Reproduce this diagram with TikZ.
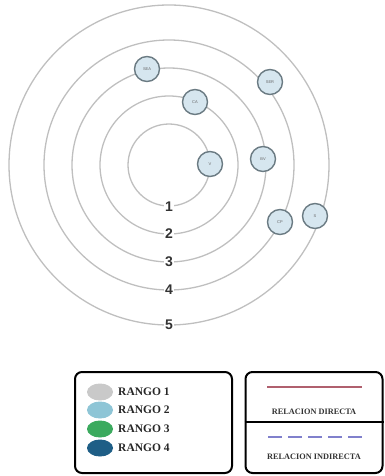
\documentclass[tikz,border=0pt]{standalone}
\usepackage{fontspec}
\usetikzlibrary{shapes.geometric}
\setmainfont{Liberation Serif}
\setsansfont{Liberation Sans}
\definecolor{actfill}{HTML}{D6E6EF}
\definecolor{actdraw}{HTML}{6B7B83}
\definecolor{rg1}{HTML}{C9C9C9}
\definecolor{rg2}{HTML}{8EC5D6}
\definecolor{rg3}{HTML}{3BAA5E}
\definecolor{rg4}{HTML}{1E5E86}
\definecolor{reldir}{HTML}{B0606E}
\definecolor{relind}{HTML}{8080CC}
\begin{document}
\begin{tikzpicture}[x=1pt,y=-1pt,
  ring/.style={draw=black!25,line width=1.3pt},
  ringlabel/.style={fill=white,inner sep=1pt,font=\sffamily\bfseries\fontsize{14}{14}\selectfont,text=black!80},
  actor/.style={circle,draw=actdraw,line width=1.4pt,fill=actfill,minimum size=25pt,inner sep=0pt,font=\sffamily\fontsize{4}{4}\selectfont,text=black!60},
  legbox/.style={draw=black,line width=2pt,rounded corners=7pt},
  legdot/.style={ellipse,minimum width=26pt,minimum height=17pt,inner sep=0pt},
  legtext/.style={anchor=west,font=\bfseries\fontsize{11.5}{11.5}\selectfont,text=black!85,inner sep=0pt},
  reltext/.style={font=\bfseries\fontsize{8.3}{8.3}\selectfont,text=black!80,inner sep=0pt}
]
\useasboundingbox (0,0) rectangle (384,476);
\coordinate (c) at (169,165);
\foreach \r in {41,69,97,125,160} \draw[ring] (c) circle (\r);
\node[ringlabel] (l1) at (169,207) {1};
\node[ringlabel] (l2) at (169,234) {2};
\node[ringlabel] (l3) at (169,262) {3};
\node[ringlabel] (l4) at (169,290) {4};
\node[ringlabel] (l5) at (169,325) {5};
\node[actor] (sea) at (147,69) {SEA};
\node[actor] (ser) at (270,82) {SER};
\node[actor] (ca) at (195,102) {CA};
\node[actor] (v) at (210,164) {V};
\node[actor] (bv) at (263,159) {BV};
\node[actor] (cp) at (280,222) {CP};
\node[actor] (s) at (315,216) {S};
% legend left
\node[legbox,minimum width=157pt,minimum height=101pt] (lb) at (153.5,422.5) {};
\node[legdot,fill=rg1] (d1) at (100,392) {};
\node[legdot,fill=rg2] (d2) at (100,410) {};
\node[legdot,fill=rg3] (d3) at (100,429) {};
\node[legdot,fill=rg4] (d4) at (100,448) {};
\node[legtext] (t1) at (118,392) {RANGO 1};
\node[legtext] (t2) at (118,410) {RANGO 2};
\node[legtext] (t3) at (118,429) {RANGO 3};
\node[legtext] (t4) at (118,448) {RANGO 4};
% legend right
\node[legbox,minimum width=137pt,minimum height=101pt] (rb) at (314,422.5) {};
\draw[line width=1.5pt] (rb.west |- 0,422) -- (rb.east |- 0,422);
\coordinate (ra) at (267,387); \coordinate (rb2) at (362,387);
\draw[line width=1.3pt,draw=reldir] (ra) -- (rb2);
\node[reltext] (rt1) at (314,412) {RELACION DIRECTA};
\coordinate (ia) at (268,437); \coordinate (ib) at (365,437);
\draw[line width=1.3pt,draw=relind,dash pattern=on 14pt off 6pt] (ia) -- (ib);
\node[reltext] (rt2) at (314,457) {RELACION INDIRECTA};
\end{tikzpicture}
\end{document}
